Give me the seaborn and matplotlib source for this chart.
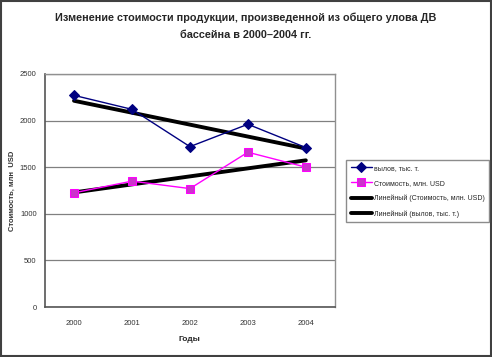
import matplotlib
matplotlib.use("Agg")
import matplotlib.pyplot as plt
import numpy as np
import seaborn as sns
from matplotlib.patches import Rectangle

# Data
years = ["2000", "2001", "2002", "2003", "2004"]
catch = [2270, 2120, 1720, 1960, 1710]      # вылов, тыс. т.
cost = [1225, 1350, 1270, 1660, 1500]       # Стоимость, млн. USD

sns.set_style("white")
plt.rcParams["font.family"] = ["Liberation Sans", "DejaVu Sans"]

pos = np.arange(len(years))

fig = plt.figure(figsize=(4.92, 3.57), dpi=100)
ax = fig.add_axes([0.0915, 0.140, 0.589, 0.653])

# series
sns.lineplot(x=pos, y=catch, ax=ax, color="#000080", marker="D", markersize=5.5,
             markeredgecolor="#000080", linewidth=1, label="вылов, тыс. т.", zorder=4)
sns.lineplot(x=pos, y=cost, ax=ax, color="#FF00FF", marker="s", markersize=5.5,
             markerfacecolor="#CC33CC", markeredgecolor="#FF00FF", linewidth=1,
             label="Стоимость, млн. USD", zorder=4)

# linear trends
sns.regplot(x=pos, y=cost, ax=ax, scatter=False, ci=None, truncate=True,
            line_kws=dict(color="black", linewidth=2.8, zorder=3),
            label="Линейный (Стоимость, млн. USD)")
sns.regplot(x=pos, y=catch, ax=ax, scatter=False, ci=None, truncate=True,
            line_kws=dict(color="black", linewidth=2.8, zorder=3),
            label="Линейный (вылов, тыс. т.)")

ax.set_xlim(-0.5, len(years) - 0.5)
ax.set_ylim(0, 2500)
ax.set_yticks(range(0, 2501, 500))
ax.set_xticks(pos)
ax.set_xticklabels(years)
ax.set_xticks(np.arange(-0.5, len(years), 1), minor=True)
ax.tick_params(axis="x", which="major", length=0, pad=9, labelsize=5.5, labelcolor="#333333")
ax.tick_params(axis="x", which="minor", length=3, direction="in", color="#555555")
ax.tick_params(axis="y", length=3, direction="out", labelsize=5.5, labelcolor="#333333",
               color="#555555", pad=3)
ax.yaxis.grid(True, color="#808080", linewidth=0.9)
ax.set_axisbelow(True)
for side in ["top", "right"]:
    ax.spines[side].set_color("#909090")
    ax.spines[side].set_linewidth(1)
for side in ["left", "bottom"]:
    ax.spines[side].set_color("#555555")
    ax.spines[side].set_linewidth(1.2)

ax.set_xlabel("Годы", fontsize=6, fontweight="bold", labelpad=7)
ax.set_ylabel("Стоимость, млн  USD", fontsize=5.5, fontweight="bold", color="#333333")
ax.yaxis.set_label_coords(-0.10, 0.5)

fig.text(0.5, 0.95, "Изменение стоимости продукции, произведенной из общего улова ДВ",
         ha="center", va="center", fontsize=7.8, fontweight="bold")
fig.text(0.5, 0.902, "бассейна в 2000–2004 гг.",
         ha="center", va="center", fontsize=7.8, fontweight="bold")

if ax.get_legend():
    ax.get_legend().remove()
handles, labels = ax.get_legend_handles_labels()
want = ["вылов, тыс. т.", "Стоимость, млн. USD",
        "Линейный (Стоимость, млн. USD)", "Линейный (вылов, тыс. т.)"]
hmap = dict(zip(labels, handles))
leg = fig.legend([hmap[w] for w in want], want, loc="upper left",
                 bbox_to_anchor=(0.703, 0.552), fontsize=5, frameon=True,
                 fancybox=False, edgecolor="#808080", handlelength=3.0,
                 labelspacing=1.15, borderpad=0.7, handletextpad=0.3,
                 borderaxespad=0)
leg.get_frame().set_linewidth(1)
leg.get_frame().set_edgecolor("#707070")

# outer frame
fig.patches.append(Rectangle((0.003, 0.004), 0.994, 0.992, transform=fig.transFigure,
                             fill=False, edgecolor="#404040", linewidth=1.5))

fig.savefig("out.png", dpi=100)
